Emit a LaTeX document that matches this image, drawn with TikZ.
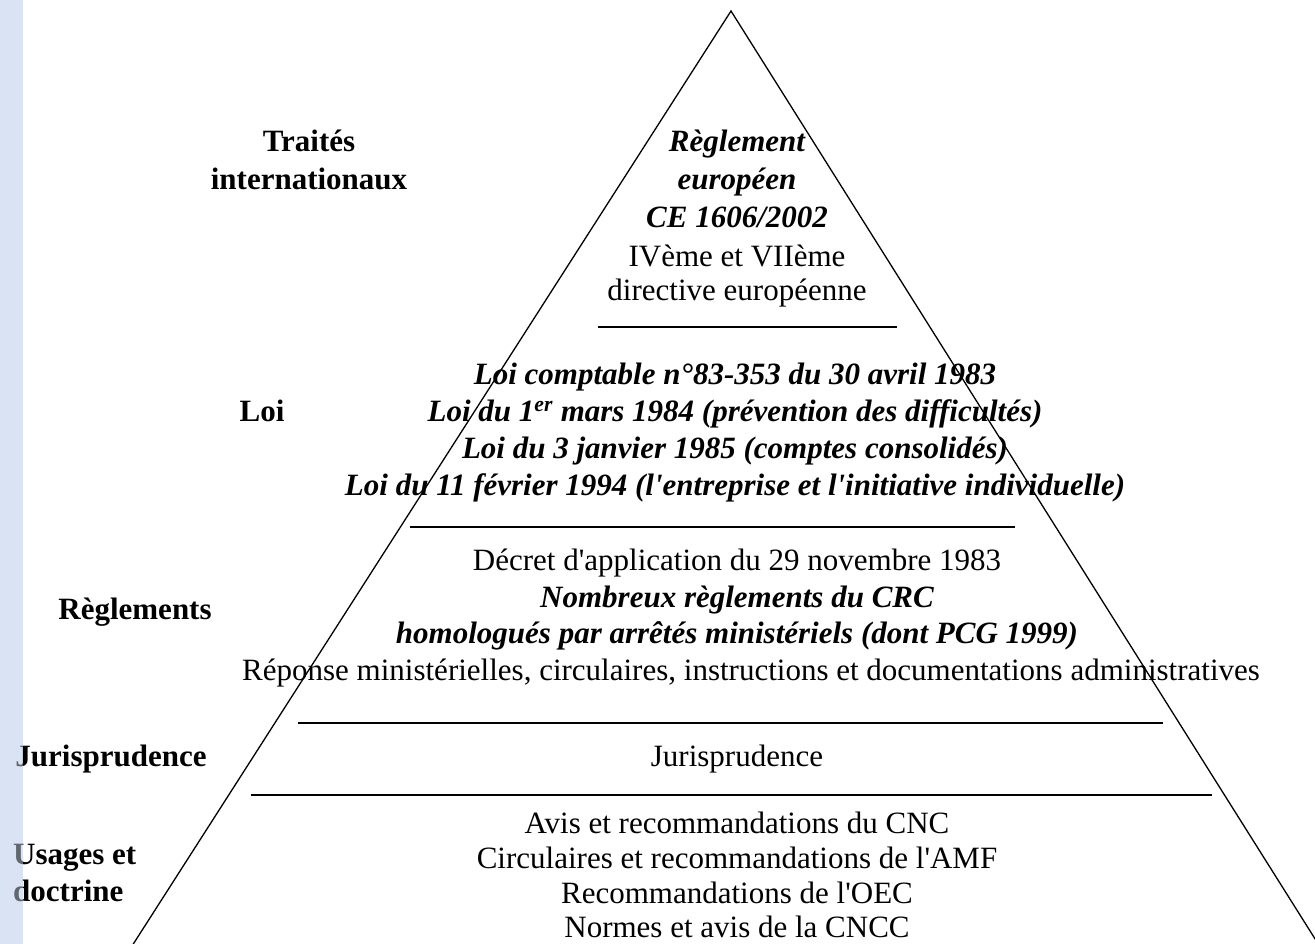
\documentclass[tikz,border=0pt]{standalone}
\usepackage{fontspec}
\setmainfont{Liberation Serif}[Ligatures=TeXOff]
\definecolor{stripc}{RGB}{218,227,243}
\begin{document}
\begin{tikzpicture}[x=1pt,y=-1pt,
  lbl/.style={font=\fontsize{31}{36}\selectfont\bfseries, inner sep=0pt, anchor=base},
  txt/.style={font=\fontsize{31}{36}\selectfont, inner sep=0pt, anchor=base},
  scr/.style={font=\fontsize{31}{36}\selectfont\bfseries\itshape, inner sep=0pt, anchor=base},
  rulel/.style={line width=2pt},
  side/.style={line width=1.3pt}]
\useasboundingbox (0,0) rectangle (1315,944);
\fill[stripc] (0,0) rectangle (23,944);

% triangle
\coordinate (apex) at (731,11);
\coordinate (bl) at (132,946);
\coordinate (br) at (1317,942);
\draw[side] (bl) -- (apex) -- (br);

% separators
\coordinate (s1a) at (598,327); \coordinate (s1b) at (897,327);
\coordinate (s2a) at (410,527); \coordinate (s2b) at (1015,527);
\coordinate (s3a) at (298,723); \coordinate (s3b) at (1163,723);
\coordinate (s4a) at (251,795); \coordinate (s4b) at (1212,795);
\draw[rulel] (s1a) -- (s1b);
\draw[rulel] (s2a) -- (s2b);
\draw[rulel] (s3a) -- (s3b);
\draw[rulel] (s4a) -- (s4b);

% left labels
\node[lbl] (l1a) at (309,152) {Traités};
\node[lbl] (l1b) at (309,190) {internationaux};
\node[lbl] (l2) at (262,421) {Loi};
\node[lbl] (l3) at (135,619) {Règlements};
\node[lbl] (l4) at (111,766) {Jurisprudence};
\node[lbl, anchor=base west] (l5a) at (13,864) {Usages et};
\node[lbl, anchor=base west] (l5b) at (13,901) {doctrine};

% level 1
\node[scr] (t1) at (737,152) {Règlement};
\node[scr] (t2) at (737,190) {européen};
\node[scr] (t3) at (737,228) {CE 1606/2002};
\node[txt] (t4) at (737,266) {IVème et VIIème};
\node[txt] (t5) at (737,300) {directive européenne};

% level 2
\node[scr] (u1) at (735,384) {Loi comptable n°83-353 du 30 avril 1983};
\node[scr] (u2) at (735,421) {Loi du 1\textsuperscript{er} mars 1984 (prévention des difficultés)};
\node[scr] (u3) at (735,458) {Loi du 3 janvier 1985 (comptes consolidés)};
\node[scr] (u4) at (735,495) {Loi du 11 février 1994 (l'entreprise et l'initiative individuelle)};

% level 3
\node[txt] (v1) at (737,570) {Décret d'application du 29 novembre 1983};
\node[scr] (v2) at (737,607) {Nombreux règlements du CRC};
\node[scr] (v3) at (737,643) {homologués par arrêtés ministériels (dont PCG 1999)};
\node[txt] (v4) at (751,680) {Réponse ministérielles, circulaires, instructions et documentations administratives};

% level 4
\node[txt] (w1) at (737,766) {Jurisprudence};

% level 5
\node[txt] (x1) at (737,833) {Avis et recommandations du CNC};
\node[txt] (x2) at (737,868) {Circulaires et recommandations de l'AMF};
\node[txt] (x3) at (737,903) {Recommandations de l'OEC};
\node[txt, text depth=0pt] (x4) at (737,937) {Normes et avis de la CNCC};

% strip overlay (greys the letters it covers)
\fill[stripc, opacity=0.45] (0,0) rectangle (23,944);
\end{tikzpicture}
\end{document}
